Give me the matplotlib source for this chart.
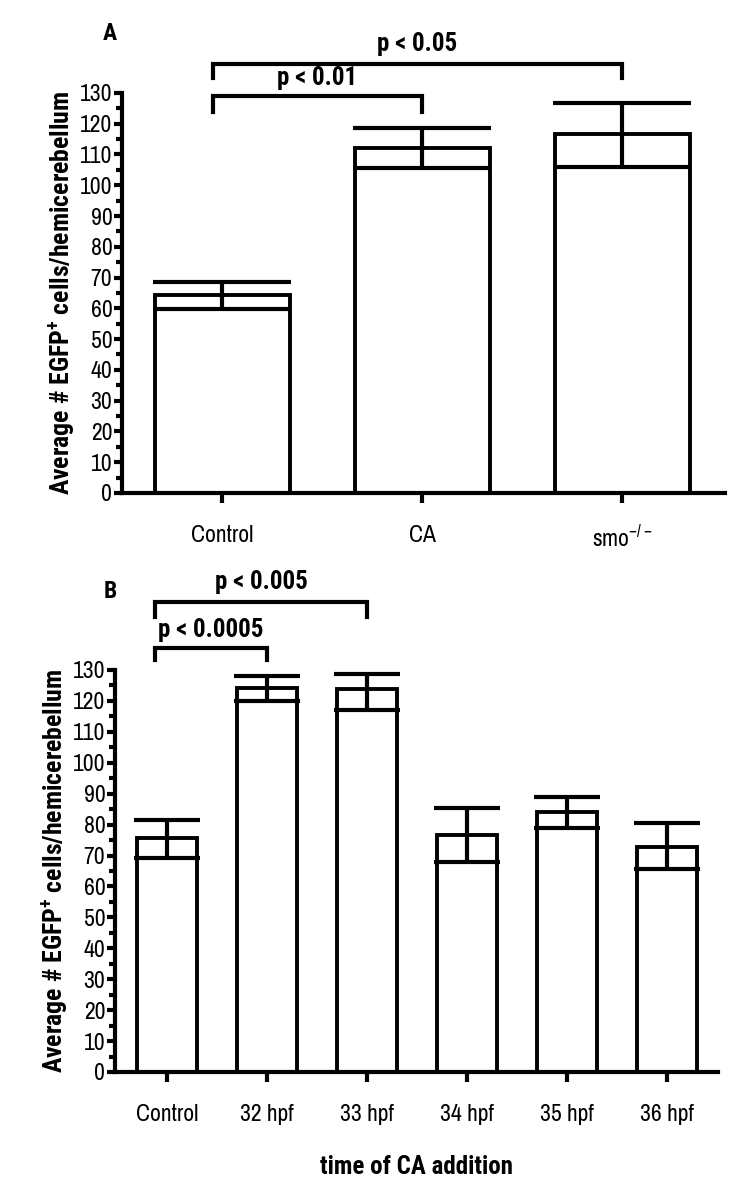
import matplotlib
matplotlib.use("Agg")
import matplotlib.pyplot as plt
from matplotlib.ticker import MultipleLocator

plt.rcParams['font.family'] = ['Archivo Narrow', 'Liberation Sans', 'DejaVu Sans']
plt.rcParams['mathtext.fontset'] = 'custom'
plt.rcParams['mathtext.rm'] = 'Archivo Narrow'
plt.rcParams['mathtext.bf'] = 'Roboto Condensed:bold'
BOLD = ['Roboto Condensed', 'PT Sans Narrow', 'Liberation Sans', 'DejaVu Sans']

# panel A
a_cats = ['Control', 'CA', 'smo$^{-/-}$']
a_mean = [64.2, 112.0, 116.7]
a_low = [59.8, 105.5, 106.0]
a_high = [68.4, 118.7, 126.7]

# panel B
b_cats = ['Control', '32 hpf', '33 hpf', '34 hpf', '35 hpf', '36 hpf']
b_mean = [75.7, 124.2, 123.8, 76.6, 84.1, 72.8]
b_low = [69.2, 120.0, 117.0, 67.9, 78.9, 65.7]
b_high = [81.5, 128.1, 128.7, 85.4, 88.9, 80.5]

ylabel = 'Average # EGFP$^{\\mathbf{+}}$ cells/hemicerebellum'


def draw_panel(ax, cats, mean, low, high, width, capsize, xlim):
    x = list(range(len(cats)))
    yerr = [[m - l for m, l in zip(mean, low)], [h - m for m, h in zip(mean, high)]]
    ax.bar(x, mean, width=width, color='white', edgecolor='black', linewidth=2.8, zorder=2)
    ax.errorbar(x, mean, yerr=yerr, fmt='none', ecolor='black', elinewidth=3,
                capsize=capsize, capthick=3, zorder=3)
    ax.set_xlim(*xlim)
    ax.set_ylim(0, 130)
    ax.set_xticks(x)
    ax.set_xticklabels(cats, fontsize=17)
    ax.yaxis.set_major_locator(MultipleLocator(10))
    ax.yaxis.set_minor_locator(MultipleLocator(5))
    ax.tick_params(axis='y', which='major', length=6, width=3, labelsize=17, pad=1)
    ax.tick_params(axis='y', which='minor', length=4, width=3)
    ax.tick_params(axis='x', which='major', length=7, width=3, pad=16)
    for s in ['top', 'right']:
        ax.spines[s].set_visible(False)
    for s in ['left', 'bottom']:
        ax.spines[s].set_linewidth(3)
    ax.set_ylabel(ylabel, fontsize=18.5, fontweight='bold', family=BOLD, labelpad=2)


def bracket(ax, x1, x2, y, leg, text, ty):
    ax.plot([x1, x1, x2, x2], [y - leg, y, y, y - leg], color='black', lw=3,
            clip_on=False, solid_joinstyle='miter')
    ax.text((x1 + x2) / 2, ty, text, ha='center', va='center', fontsize=18,
            fontweight='bold', family=BOLD, clip_on=False)


fig = plt.figure(figsize=(7.5, 11.81), dpi=100)

ax1 = fig.add_axes([0.1627, 0.5826, 0.8040, 0.3387])
draw_panel(ax1, a_cats, a_mean, a_low, a_high, 0.675, 50, (-0.5, 2.515))
bracket(ax1, -0.045, 1.0, 129.0, 5.2, 'p < 0.01', 135.0)
bracket(ax1, -0.045, 2.0, 139.4, 4.6, 'p < 0.05', 146.0)
fig.text(110 / 750, 1 - 33 / 1181, 'A', fontsize=17, fontweight='bold', family=BOLD,
         ha='center', va='center')

ax2 = fig.add_axes([0.1533, 0.0923, 0.8040, 0.3404])
draw_panel(ax2, b_cats, b_mean, b_low, b_high, 0.6, 24, (-0.52, 5.51))
bracket(ax2, -0.12, 1.0, 137.1, 3.9, 'p < 0.0005', 143.0)
bracket(ax2, -0.12, 2.0, 152.0, 4.8, 'p < 0.005', 158.4)
ax2.set_xlabel('time of CA addition', fontsize=18, fontweight='bold', family=BOLD, labelpad=22)
fig.text(110 / 750, 1 - 592 / 1181, 'B', fontsize=17, fontweight='bold', family=BOLD,
         ha='center', va='center')

fig.savefig('out.png', dpi=100)
